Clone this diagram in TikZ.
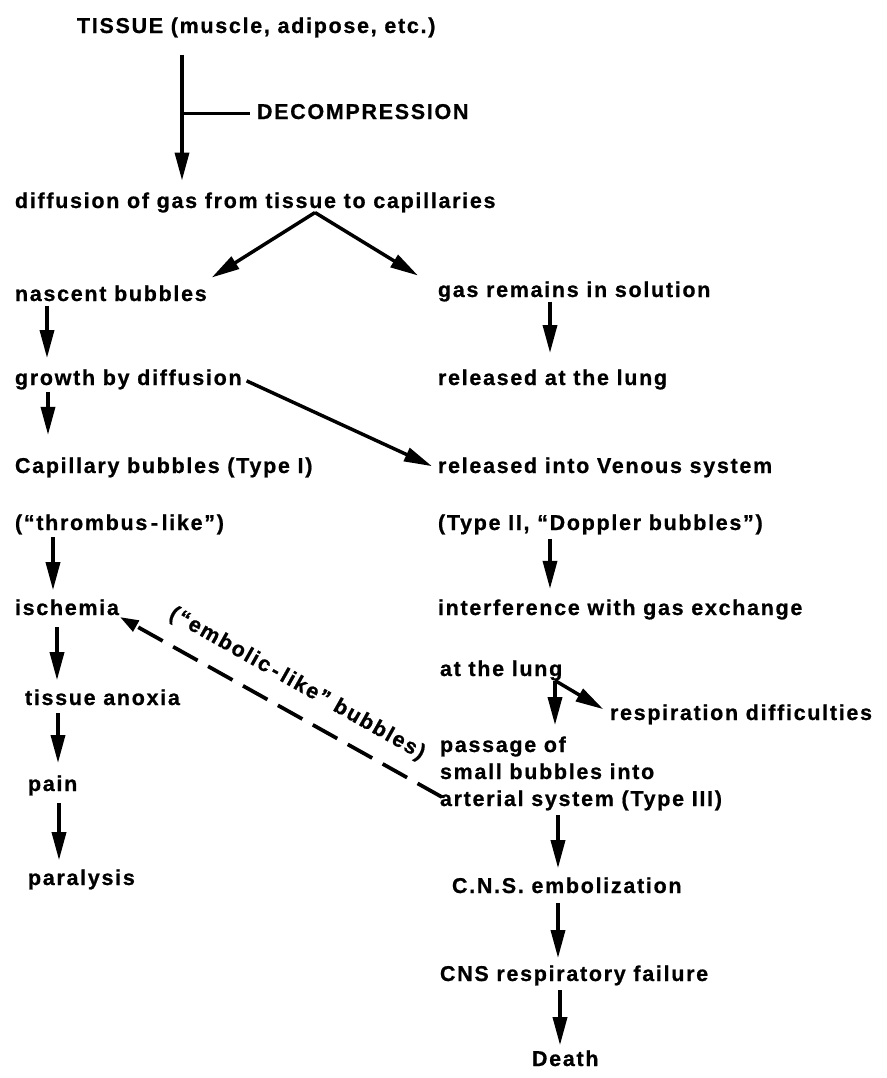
\documentclass[tikz,border=0pt]{standalone}
\usepackage{fontspec}
\setmainfont{Liberation Sans}[LetterSpace=8.0,BoldFeatures={FakeBold=0.8}]
\usetikzlibrary{arrows.meta,calc}
\begin{document}
\begin{tikzpicture}[x=0.75pt,y=-0.75pt,
  lbl/.style={anchor=base west,inner sep=0pt,outer sep=0pt,
    font=\fontsize{16.1pt}{19pt}\selectfont\bfseries,
    text height=11.6pt,text depth=3.4pt},
  arr/.style={line width=2.6pt,-{Triangle[length=21pt,width=10.5pt]}},
  dasharr/.style={line width=2.8pt,dash pattern=on 21pt off 9pt,
    -{Triangle[length=14pt,width=9pt]}},
  plain/.style={line width=2.6pt}]
\useasboundingbox (0,0) rectangle (887,1078);

% left / top column
\node[lbl] (tissue)  at (77,33)   {TISSUE (muscle, adipose, etc.)};
\node[lbl] (decomp)  at (257,119) {DECOMPRESSION};
\node[lbl] (diff)    at (15,208)  {diffusion of gas from tissue to capillaries};
\node[lbl] (nasc)    at (15,301)  {nascent bubbles};
\node[lbl] (growth)  at (15,385)  {growth by diffusion};
\node[lbl] (capill)  at (15,473)  {Capillary bubbles (Type I)};
\node[lbl] (thromb)  at (15,530)  {(“thrombus\,-\,like”)};
\node[lbl] (isch)    at (15,615)  {ischemia};
\node[lbl] (anoxia)  at (25,705)  {tissue anoxia};
\node[lbl] (pain)    at (28,791)  {pain};
\node[lbl] (paral)   at (28,885)  {paralysis};

% right column
\node[lbl] (gasrem)  at (438,297) {gas remains in solution};
\node[lbl] (rellung) at (438,385) {released at the lung};
\node[lbl] (venous)  at (438,473) {released into Venous system};
\node[lbl] (type2)   at (438,530) {(Type II, “Doppler bubbles”)};
\node[lbl] (interf)  at (438,615) {interference with gas exchange};
\node[lbl] (atlung)  at (440,676) {at the lung};
\node[lbl] (resp)    at (610,720) {respiration difficulties};
\node[lbl] (passage) at (440,752) {passage of};
\node[lbl] (small)   at (440,779) {small bubbles into};
\node[lbl] (arterial) at (440,806) {arterial system (Type III)};
\node[lbl] (cns)     at (452,893) {C.N.S. embolization};
\node[lbl] (cnsresp) at (440,981) {CNS respiratory failure};
\node[lbl] (death)   at (532,1066) {Death};

% dashed label
\node[lbl,anchor=center,rotate=-29.4] (emb) at (297,684) {(“embolic\,-\,like” bubbles)};

% top
\draw[arr,shorten <=12.8pt,shorten >=9pt] (182,0 |- tissue.south) -- (182,0 |- diff.north);
\draw[plain,shorten >=5pt] (182,0 |- decomp.west) -- (decomp.west);

% split
\coordinate (apex) at (315,0 |- diff.south);
\draw[arr] (apex) -- ([xshift=3.75pt,yshift=6pt]nasc.north east);
\draw[arr] (apex) -- ([xshift=-15pt,yshift=4.5pt]gasrem.north west);

% left chain
\draw[arr,shorten >=8.6pt] (47,0 |- nasc.south) -- (47,0 |- growth.north);
\draw[arr,shorten <=2pt,shorten >=17pt] (48,0 |- growth.south) -- (48,0 |- capill.north);
\draw[arr,shorten <=2pt,shorten >=7pt] (53,0 |- thromb.south) -- (53,0 |- isch.north);
\draw[arr,shorten <=5.6pt,shorten >=7pt] (57,0 |- isch.south) -- (57,0 |- anoxia.north);
\draw[arr,shorten <=2.6pt,shorten >=9.4pt] (58,0 |- anoxia.south) -- (58,0 |- pain.north);
\draw[arr,shorten <=5.6pt,shorten >=7pt] (59,0 |- pain.south) -- (59,0 |- paral.north);

% growth -> venous
\draw[arr] ([xshift=3.75pt,yshift=-1pt]growth.east) -- ([xshift=-4.5pt,yshift=1pt]venous.west);

% right chain
\draw[arr,shorten >=12.4pt] (550,0 |- gasrem.south) -- (550,0 |- rellung.north);
\draw[arr,shorten <=3pt,shorten >=8pt] (550,0 |- type2.south) -- (550,0 |- interf.north);
\draw[arr,shorten >=8.6pt] (555,0 |- atlung.south) -- (555,0 |- passage.north);
\draw[arr] (555,0 |- atlung.south) -- ([xshift=-5pt,yshift=4pt]resp.west);
\draw[arr,shorten <=3.4pt,shorten >=7pt] (558,0 |- arterial.south) -- (558,0 |- cns.north);
\draw[arr,shorten <=4pt,shorten >=5.6pt] (558,0 |- cns.south) -- (558,0 |- cnsresp.north);
\draw[arr,shorten <=3.4pt,shorten >=4pt] (560,0 |- cnsresp.south) -- (560,0 |- death.north);

% dashed embolic arrow
\draw[dasharr] ([xshift=1.5pt,yshift=2.6pt]arterial.west) -- ([xshift=0.75pt,yshift=-1.5pt]isch.base east);
\end{tikzpicture}
\end{document}
